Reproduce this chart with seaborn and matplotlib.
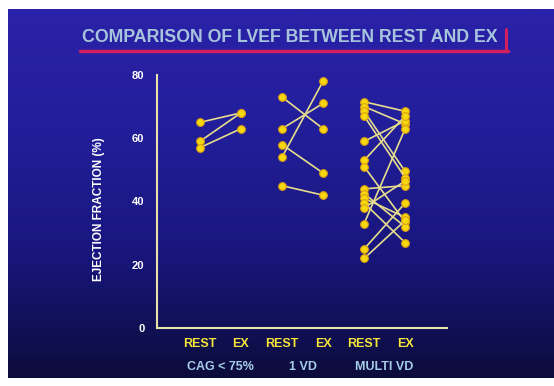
import numpy as np
import pandas as pd
import matplotlib
matplotlib.use("Agg")
import matplotlib.pyplot as plt
import seaborn as sns

# -----------------------------
# Data
# -----------------------------
groups = ["CAG < 75%", "1 VD", "MULTI VD"]
conditions = ["REST", "EX"]

cag_rest = [65, 59, 57]
cag_ex = [68, 68, 63]

vd1_rest = [73, 63, 58, 54, 45]
vd1_ex = [63, 71, 49, 78, 42]

multi_rest = [71.5, 70, 68.5, 67, 59, 53, 51, 44, 42.5, 41, 39.5, 38, 33, 25, 22]
multi_ex = [68.5, 64.5, 49.5, 47.5, 65.5, 67, 33.5, 45, 32, 35, 27, 46.5, 63, 39.5, 34]

# -----------------------------
# Long table for seaborn
# -----------------------------
rows = []
sid = 0
for g, (rest, ex) in enumerate([(cag_rest, cag_ex), (vd1_rest, vd1_ex), (multi_rest, multi_ex)]):
    for r, e in zip(rest, ex):
        rows.append({"subject": sid, "pos": 2 * g, "ef": r})
        rows.append({"subject": sid, "pos": 2 * g + 1, "ef": e})
        sid += 1
df = pd.DataFrame(rows)

# -----------------------------
# Figure
# -----------------------------
sns.set_style("white")
plt.rcParams["font.family"] = ["Liberation Sans", "DejaVu Sans"]

fig = plt.figure(figsize=(5.54, 3.86), dpi=100, facecolor="white")

# slide background gradient
bg = fig.add_axes([0.014, 0.022, 0.986, 0.955])
grad = np.linspace(0, 1, 256).reshape(-1, 1)
cmap = matplotlib.colors.LinearSegmentedColormap.from_list(
    "slide", ["#2a22a8", "#221e9a", "#18167c", "#0c0c3c"])
bg.imshow(grad, aspect="auto", cmap=cmap, extent=[0, 1, 0, 1], origin="upper")
bg.set_axis_off()

ax = fig.add_axes([0.283, 0.150, 0.524, 0.656])
ax.set_facecolor("none")

sns.lineplot(
    data=df, x="pos", y="ef", units="subject", estimator=None,
    color="#e6de8c", linewidth=1.2, marker="o", markersize=5.5,
    markerfacecolor="#f5d80f", markeredgecolor="#e0a010", markeredgewidth=0.8,
    ax=ax, legend=False,
)

ax.set_xlim(-1.05, 6.02)
ax.set_ylim(0, 80)
ax.set_xticks([0, 1, 2, 3, 4, 5, 6.02])
ax.set_xticklabels(conditions * 3 + [""])
ax.set_yticks([0, 20, 40, 60, 80])
ax.set_xlabel("")
ax.set_ylabel("EJECTION FRACTION (%)", color="white", fontsize=8.5,
              fontweight="bold")
ax.yaxis.set_label_coords(-0.18, 0.47)

for s in ["top", "right"]:
    ax.spines[s].set_visible(False)
for s in ["left", "bottom"]:
    ax.spines[s].set_color("#e8e2a8")
    ax.spines[s].set_linewidth(1.5)

ax.tick_params(axis="x", direction="in", length=4, width=1,
               colors="#f5e43a", labelsize=9, pad=7)
ax.tick_params(axis="y", direction="in", length=3, width=1,
               colors="white", labelsize=8, pad=9)
ax.tick_params(axis="both", color="#e8e2a8")
for lbl in ax.get_xticklabels() + ax.get_yticklabels():
    lbl.set_fontweight("bold")

# group names under the REST/EX labels
for g, name in enumerate(groups):
    ax.text(2 * g + 0.5, -0.13, name, transform=ax.get_xaxis_transform(),
            ha="center", va="top", color="#a6cde6", fontsize=9,
            fontweight="semibold")

# title with magenta underline and end bar
fig.text(0.523, 0.903, "COMPARISON OF LVEF BETWEEN REST AND EX",
         ha="center", va="center", color="#a8c4dc", fontsize=12.8,
         fontweight="bold")
fig.add_artist(plt.Line2D([0.145, 0.917], [0.868, 0.868], color="#d0205e",
                          linewidth=2.5, transform=fig.transFigure))
fig.add_artist(plt.Line2D([0.914, 0.914], [0.868, 0.925], color="#d0205e",
                          linewidth=2.2, transform=fig.transFigure))

fig.savefig("out.png", dpi=100, facecolor="white")
